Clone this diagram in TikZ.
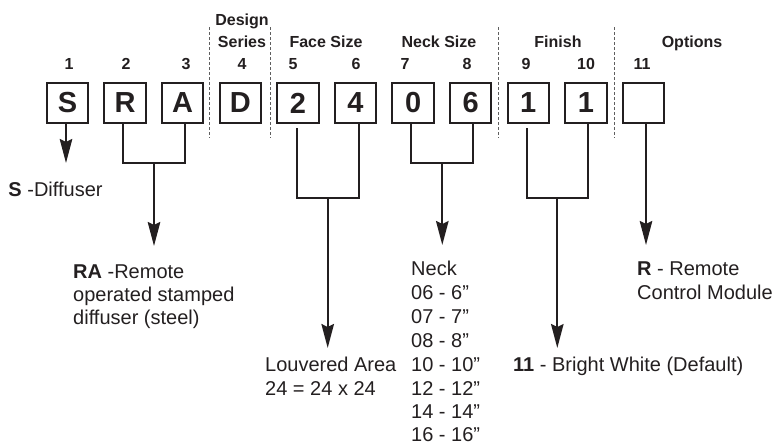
\documentclass[tikz,border=0pt]{standalone}
\usepackage{fontspec}
\setmainfont{Liberation Sans}
\usetikzlibrary{arrows.meta}
\definecolor{ink}{RGB}{35,31,32}
\definecolor{dashgray}{RGB}{95,95,95}
\begin{document}
\begin{tikzpicture}[x=1pt,y=-1pt,
  box/.style={draw=ink, line width=2pt, minimum width=41.5pt, minimum height=40.5pt, inner sep=0pt, font=\fontsize{29}{29}\selectfont\bfseries, text=ink},
  num/.style={anchor=base, inner sep=0pt, font=\fontsize{16}{16}\selectfont\bfseries, text=ink},
  txt/.style={anchor=base west, inner sep=0pt, font=\fontsize{20}{24}\selectfont, text=ink},
  conn/.style={draw=ink, line width=2.2pt, line join=miter},
  arr/.style={conn, -{Stealth[length=24pt,width=12.5pt,inset=3pt]}},
  sep/.style={draw=dashgray, line width=1pt, dash pattern=on 3pt off 2pt}]
\useasboundingbox (0,0) rectangle (776,445);

% boxes
\foreach \i/\l in {1/S,2/R,3/A,4/D,5/2,6/4,7/0,8/6,9/1,10/1,11/{}}
  \node[box] (b\i) at ({67.5+57.6*(\i-1)},103) {\l};

% position numbers
\node[num] (n1) at (69,69) {1};
\node[num] (n2) at (126,69) {2};
\node[num] (n3) at (186,69) {3};
\node[num] (n4) at (242,69) {4};
\node[num] (n5) at (293,69) {5};
\node[num] (n6) at (356,69) {6};
\node[num] (n7) at (405,69) {7};
\node[num] (n8) at (467,69) {8};
\node[num] (n9) at (526,69) {9};
\node[num] (n10) at (586,69) {10};
\node[num] (n11) at (642,69) {11};

% headers
\node[num] (hdes) at (242,25) {Design};
\node[num] (hser) at (242,47) {Series};
\node[num] (hface) at (326,47) {Face Size};
\node[num] (hneck) at (439,47) {Neck Size};
\node[num] (hfin) at (558,47) {Finish};
\node[num] (hopt) at (692,47) {Options};

% dashed separators
\draw[sep] (209.5,27) -- (209.5,138);
\draw[sep] (270.7,27) -- (270.7,138);
\draw[sep] (498.7,27) -- (498.7,138);
\draw[sep] (614.3,27) -- (614.3,138);

% junctions and arrow tips
\coordinate (jRA) at (154,163.3);
\coordinate (jFace) at (327.7,197.7);
\coordinate (jNeck) at (442.3,162.7);
\coordinate (jFin) at (557.3,197.7);
\coordinate (tS) at (66,163);
\coordinate (tRA) at (154,246);
\coordinate (tFace) at (327.7,348);
\coordinate (tNeck) at (442.3,245);
\coordinate (tFin) at (557.3,348);
\coordinate (tOpt) at (646,245);

% connectors
\draw[arr] ([xshift=-1.5pt]b1.south) -- ([xshift=-1.5pt]b1.south |- tS);

\draw[conn] ([xshift=-1.8pt]b2.south) |- (jRA) -| ([xshift=2.6pt]b3.south);
\draw[arr] (jRA) -- (tRA);

\draw[conn] ([xshift=-1.2pt,yshift=-4pt]b5.south) |- (jFace) -| ([xshift=3.8pt]b6.south);
\draw[arr] (jFace) -- (tFace);

\draw[conn] ([xshift=-2.1pt]b7.south) |- (jNeck) -| ([xshift=2.6pt]b8.south);
\draw[arr] (jNeck) -- (tNeck);

\draw[conn] ([xshift=-1.6pt,yshift=-4pt]b9.south) |- (jFin) -| ([xshift=2.4pt]b10.south);
\draw[arr] (jFin) -- (tFin);

\draw[arr] ([xshift=2.5pt]b11.south) -- ([xshift=2.5pt]b11.south |- tOpt);

% descriptions
\node[txt] (sdesc) at (8.3,196) {\textbf{S} -Diffuser};
\node[txt] (ra1) at (73,278) {\textbf{RA} -Remote};
\node[txt] (ra2) at (73,301) {operated stamped};
\node[txt] (ra3) at (73,324) {diffuser (steel)};
\node[txt] (lv1) at (265,371.5) {Louvered Area};
\node[txt] (lv2) at (265,395.5) {24 = 24 x 24};
\node[txt] (nk0) at (411,275.5) {Neck};
\node[txt] (nk1) at (411,299.5) {06 - 6”};
\node[txt] (nk2) at (411,323.5) {07 - 7”};
\node[txt] (nk3) at (411,347.5) {08 - 8”};
\node[txt] (nk4) at (411,371.5) {10 - 10”};
\node[txt] (nk5) at (411,395.5) {12 - 12”};
\node[txt] (nk6) at (411,418.5) {14 - 14”};
\node[txt] (nk7) at (411,441.5) {16 - 16”};
\node[txt] (r1) at (637,275.5) {\textbf{R} - Remote};
\node[txt] (r2) at (637,299.5) {Control Module};
\node[txt] (fin) at (513,371.5) {\textbf{11} - Bright White (Default)};
\end{tikzpicture}
\end{document}
